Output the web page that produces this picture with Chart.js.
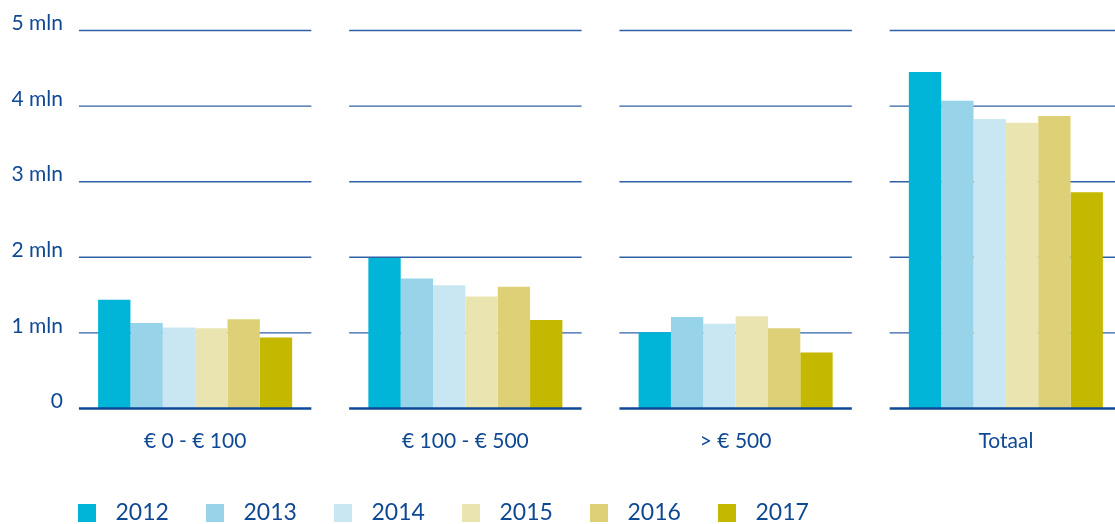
<!DOCTYPE html>
<html>
<head>
<meta charset="utf-8">
<script src="https://cdn.jsdelivr.net/npm/chart.js@4/dist/chart.umd.min.js"></script>
<style>
  html, body { margin: 0; padding: 0; background: #ffffff; overflow: hidden; }
  #wrap { width: 1141px; height: 524px; }
</style>
</head>
<body>
<div id="wrap"><canvas id="c" width="1141" height="524"></canvas></div>
<script>
// ---- data ----
const categories = ['€ 0 - € 100', '€ 100 - € 500', '> € 500', 'Totaal'];
const years = ['2012', '2013', '2014', '2015', '2016', '2017'];
const values2012 = [1.44, 1.99, 1.01, 4.45];
const values2013 = [1.13, 1.72, 1.21, 4.07];
const values2014 = [1.07, 1.63, 1.12, 3.83];
const values2015 = [1.06, 1.48, 1.22, 3.78];
const values2016 = [1.18, 1.61, 1.06, 3.87];
const values2017 = [0.94, 1.17, 0.74, 2.86];
const yTickLabels = ['0', '1 mln', '2 mln', '3 mln', '4 mln', '5 mln'];
const yearColors = ['#00b5d8', '#97d4e9', '#c8e7f2', '#eae5b0', '#ddd077', '#c4b800'];

const seriesValues = [values2012, values2013, values2014, values2015, values2016, values2017];

// ---- styling ----
const TEXT = '#0f4893';
const FONT = 'Lato';
const LEG_FS = 23;
const LEG_IMG_W = 26;
const LEG_BOX = 18;
const LEG_STEP = 128;

const mctx = document.createElement('canvas').getContext('2d');
mctx.font = LEG_FS + 'px ' + FONT;
const legTextW = mctx.measureText('2012').width;
const legPad = LEG_STEP - (LEG_IMG_W + LEG_FS / 2 + legTextW);
const legHeight = LEG_FS + legPad + 10;
const CHART_BOTTOM = 408.5;
const xAxisHeight = 524 - CHART_BOTTOM - legHeight;

const legendImgs = yearColors.map(c => {
  const cv = document.createElement('canvas');
  cv.width = LEG_IMG_W; cv.height = LEG_BOX;
  const g = cv.getContext('2d');
  g.fillStyle = c;
  g.fillRect(0, 0, LEG_BOX, LEG_BOX);
  return cv;
});

const segGrid = {
  id: 'segGrid',
  beforeDatasetsDraw(chart) {
    const {ctx, scales: {x, y}} = chart;
    const half = x.width / categories.length * 0.43;
    ctx.save();
    ctx.strokeStyle = '#2f60a8';
    ctx.lineWidth = 1.4;
    y.ticks.forEach(t => {
      if (t.value === 0) return;
      const py = y.getPixelForValue(t.value);
      categories.forEach((_, i) => {
        const cx = x.getPixelForValue(i);
        ctx.beginPath(); ctx.moveTo(cx - half, py); ctx.lineTo(cx + half, py); ctx.stroke();
      });
    });
    ctx.restore();
  },
  afterDatasetsDraw(chart) {
    const {ctx, scales: {x, y}} = chart;
    const half = x.width / categories.length * 0.43;
    const py = y.getPixelForValue(0);
    ctx.save();
    ctx.strokeStyle = '#0c4a98';
    ctx.lineWidth = 2.5;
    categories.forEach((_, i) => {
      const cx = x.getPixelForValue(i);
      ctx.beginPath(); ctx.moveTo(cx - half, py); ctx.lineTo(cx + half, py); ctx.stroke();
    });
    ctx.restore();
  },
  afterLayout(chart) {
    const lg = chart.legend;
    if (!lg) return;
    const dx = (78 - legPad) - lg.left;
    lg.left += dx; lg.right += dx;
    const dy = (512.8 - LEG_FS / 2 - legPad) - lg.top;
    lg.top += dy; lg.bottom += dy;
  }
};

new Chart(document.getElementById('c'), {
  type: 'bar',
  data: {
    labels: categories,
    datasets: years.map((yr, i) => ({
      label: yr,
      data: seriesValues[i],
      backgroundColor: yearColors[i],
      borderWidth: 0,
      categoryPercentage: 0.718,
      barPercentage: 1.0
    }))
  },
  options: {
    responsive: false,
    animation: false,
    layout: { padding: { top: 30.5, left: 0, right: 0, bottom: 0 } },
    scales: {
      x: {
        grid: { display: false, drawTicks: false },
        border: { display: false },
        ticks: { color: TEXT, font: { family: FONT, size: 21 }, padding: 20 },
        afterFit(s) { s.height = xAxisHeight; }
      },
      y: {
        min: 0, max: 5,
        grid: { display: false, drawTicks: false },
        border: { display: false },
        ticks: {
          stepSize: 1,
          color: TEXT,
          font: { family: FONT, size: 21 },
          padding: -3,
          labelOffset: -7,
          callback: (v) => yTickLabels[Math.round(v)]
        },
        afterFit(s) {
          s.width = 60;
          // let labels overhang the chart area slightly, as in the reference
          s._computeLabelArea = () => undefined;
        }
      }
    },
    plugins: {
      legend: {
        position: 'bottom',
        align: 'start',
        labels: {
          usePointStyle: true,
          pointStyleWidth: LEG_IMG_W,
          boxHeight: LEG_BOX,
          padding: legPad,
          color: TEXT,
          font: { family: FONT, size: LEG_FS },
          generateLabels(chart) {
            return Chart.defaults.plugins.legend.labels.generateLabels(chart)
              .map((l, i) => Object.assign(l, { pointStyle: legendImgs[i] }));
          }
        }
      },
      tooltip: { enabled: false }
    }
  },
  plugins: [segGrid]
});
</script>
</body>
</html>
